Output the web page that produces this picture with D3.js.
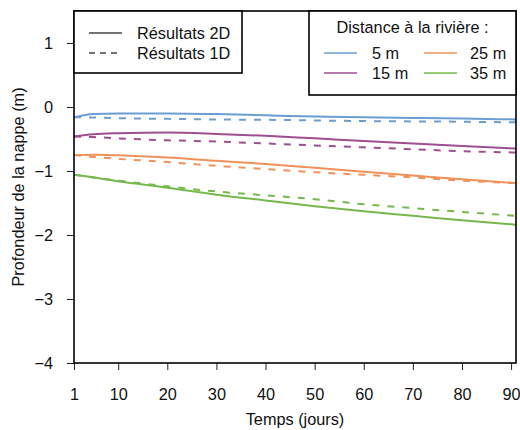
<!DOCTYPE html>
<html><head><meta charset="utf-8">
<script src="https://cdn.jsdelivr.net/npm/d3@7"></script>
<style>body{margin:0;background:#fff}svg{display:block;font-family:"Liberation Sans",Arial,sans-serif}</style>
</head><body><svg id="c" width="520" height="430"></svg>
<script>
const days = [1, 5, 10, 20, 30, 40, 50, 60, 70, 80, 91];
const distances = ["5 m", "15 m", "25 m", "35 m"];
const colors = ["#6A9ED0", "#9E4F91", "#F0915A", "#76B84B"];
const res2D_5 = [-0.16, -0.11, -0.10, -0.10, -0.11, -0.13, -0.15, -0.16, -0.17, -0.18, -0.195];
const res2D_15 = [-0.46, -0.425, -0.41, -0.40, -0.42, -0.45, -0.49, -0.53, -0.57, -0.61, -0.65];
const res2D_25 = [-0.75, -0.745, -0.755, -0.79, -0.84, -0.89, -0.95, -1.01, -1.07, -1.13, -1.19];
const res2D_35 = [-1.06, -1.10, -1.16, -1.26, -1.37, -1.46, -1.55, -1.63, -1.70, -1.77, -1.84];
const res1D_5 = [-0.16, -0.165, -0.175, -0.185, -0.195, -0.20, -0.21, -0.22, -0.225, -0.23, -0.24];
const res1D_15 = [-0.46, -0.47, -0.49, -0.52, -0.54, -0.57, -0.60, -0.63, -0.66, -0.69, -0.71];
const res1D_25 = [-0.75, -0.78, -0.81, -0.86, -0.92, -0.97, -1.02, -1.06, -1.10, -1.15, -1.19];
const res1D_35 = [-1.06, -1.10, -1.15, -1.24, -1.32, -1.38, -1.44, -1.52, -1.58, -1.64, -1.70];
const xTicks = [1, 10, 20, 30, 40, 50, 60, 70, 80, 90];
const yTicks = [-4, -3, -2, -1, 0, 1];
const series2D = [res2D_5, res2D_15, res2D_25, res2D_35];
const series1D = [res1D_5, res1D_15, res1D_25, res1D_35];

const FS = 16.3;
const svg = d3.select("#c");
const L = 74, R = 516, T = 11, B = 363;
const x = d3.scaleLinear().domain([1, 91]).range([L, R]);
const y = d3.scaleLinear().domain([-4, 1.5]).range([B, T]);
const line = d3.line().x((d, i) => x(days[i])).y(d => y(d)).curve(d3.curveMonotoneX);

const g = svg.append("g");
series1D.forEach((s, k) => {
  g.append("path").attr("d", line(s)).attr("fill", "none").attr("stroke", colors[k])
    .attr("stroke-width", 2).attr("stroke-dasharray", "7,8");
});
series2D.forEach((s, k) => {
  g.append("path").attr("d", line(s)).attr("fill", "none").attr("stroke", colors[k])
    .attr("stroke-width", 2);
});

// axes
const xa = svg.append("g").attr("transform", `translate(0,${B})`)
  .call(d3.axisBottom(x).tickValues(xTicks).tickSize(7).tickPadding(18).tickFormat(d3.format("d")));
const ya = svg.append("g").attr("transform", `translate(${L},0)`)
  .call(d3.axisLeft(y).tickValues(yTicks).tickSize(7).tickPadding(14).tickFormat(d => d < 0 ? "\u2212" + Math.abs(d) : d));
[xa, ya].forEach(a => {
  a.select(".domain").remove();
  a.selectAll("text").attr("font-size", FS).attr("fill", "#111").attr("font-family", "Liberation Sans, Arial, sans-serif");
  a.selectAll("line").attr("stroke", "#222");
});

// box
svg.append("rect").attr("x", L).attr("y", T).attr("width", R - L).attr("height", B - T)
  .attr("fill", "none").attr("stroke", "#000").attr("stroke-width", 1.6);

// axis titles
svg.append("text").attr("x", (L + R) / 2).attr("y", 425).attr("text-anchor", "middle")
  .attr("font-size", FS).attr("fill", "#111").text("Temps (jours)");
svg.append("text").attr("transform", `translate(24,${(T + B) / 2}) rotate(-90)`).attr("text-anchor", "middle")
  .attr("font-size", FS).attr("fill", "#111").text("Profondeur de la nappe (m)");

// legend 1
const lg1 = svg.append("g");
lg1.append("rect").attr("x", L).attr("y", T).attr("width", 168).attr("height", 62)
  .attr("fill", "#fff").attr("stroke", "#000").attr("stroke-width", 1.6);
[["Résultats 2D", null, 33], ["Résultats 1D", "6,5", 53]].forEach(([t, dash, yy]) => {
  lg1.append("line").attr("x1", 89).attr("x2", 122).attr("y1", yy).attr("y2", yy)
    .attr("stroke", "#444").attr("stroke-width", 1.5).attr("stroke-dasharray", dash);
  lg1.append("text").attr("x", 137).attr("y", yy + 6).attr("font-size", FS).attr("fill", "#111").text(t);
});

// legend 2
const lg2 = svg.append("g");
lg2.append("rect").attr("x", 309).attr("y", T).attr("width", R - 309).attr("height", 84)
  .attr("fill", "#fff").attr("stroke", "#000").attr("stroke-width", 1.6);
lg2.append("text").attr("x", 412.5).attr("y", 33).attr("text-anchor", "middle")
  .attr("font-size", FS).attr("fill", "#111").text("Distance à la rivière :");
distances.forEach((d, k) => {
  const col = Math.floor(k / 2), row = k % 2;
  const lx = 324 + col * 100, yy = 53 + row * 20;
  lg2.append("line").attr("x1", lx).attr("x2", lx + 33).attr("y1", yy).attr("y2", yy)
    .attr("stroke", colors[k]).attr("stroke-width", 1.5);
  lg2.append("text").attr("x", col ? 470 : 372).attr("y", yy + 6).attr("font-size", FS)
    .attr("fill", "#111").text(d);
});
</script></body></html>
